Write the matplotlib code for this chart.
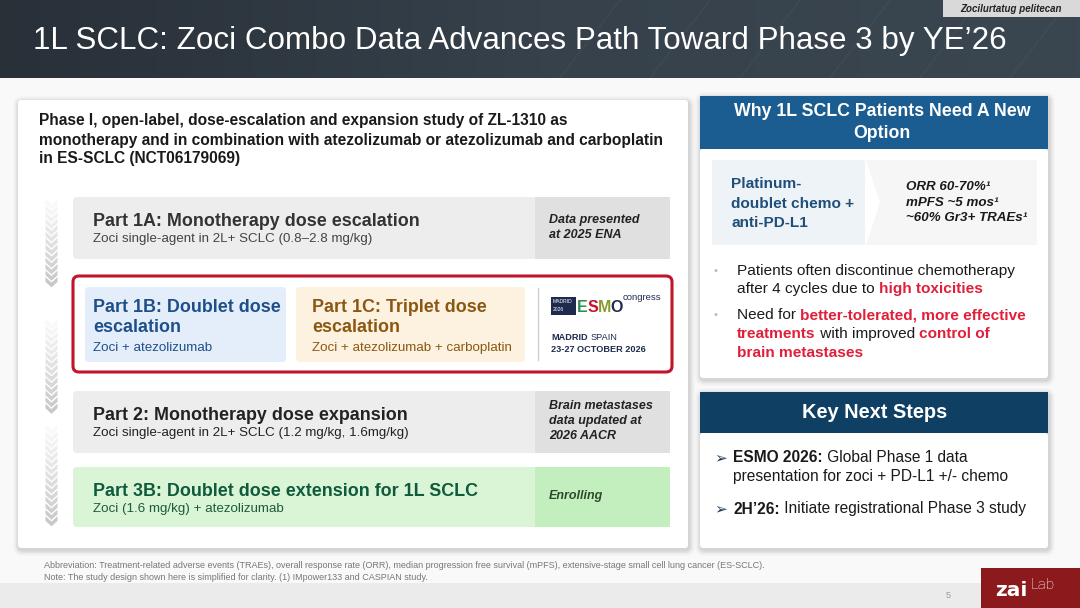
import matplotlib
matplotlib.use("Agg")
import matplotlib.pyplot as plt
from matplotlib.patches import FancyBboxPatch, Rectangle, Polygon
from matplotlib.colors import LinearSegmentedColormap
import numpy as np

plt.rcParams['font.family'] = ['Liberation Sans', 'DejaVu Sans']

# ---------------- content ----------------
title = "1L SCLC: Zoci Combo Data Advances Path Toward Phase 3 by YE\u201926"
tag = "Zocilurtatug pelitecan"
study_lines = ["Phase I, open-label, dose-escalation and expansion study of ZL-1310 as",
               "monotherapy and in combination with atezolizumab or atezolizumab and carboplatin",
               "in ES-SCLC (NCT06179069)"]
part_titles = ["Part 1A: Monotherapy dose escalation",
               "Part 2: Monotherapy dose expansion",
               "Part 3B: Doublet dose extension for 1L SCLC"]
part_subs = ["Zoci single-agent in 2L+ SCLC (0.8\u20132.8 mg/kg)",
             "Zoci single-agent in 2L+ SCLC (1.2 mg/kg, 1.6mg/kg)",
             "Zoci (1.6 mg/kg) + atezolizumab"]
part_status = [["Data presented", "at 2025 ENA"],
               ["Brain metastases", "data updated at", "2026 AACR"],
               ["Enrolling"]]
p1b_title = ["Part 1B: Doublet dose", "escalation"]
p1b_sub = "Zoci + atezolizumab"
p1c_title = ["Part 1C: Triplet dose", "escalation"]
p1c_sub = "Zoci + atezolizumab + carboplatin"
why_head = ["Why 1L SCLC Patients Need A New", "Option"]
why_box = ["Platinum-", "doublet chemo +", "anti-PD-L1"]
why_stats = ["ORR 60-70%\u00b9", "mPFS ~5 mos\u00b9", "~60% Gr3+ TRAEs\u00b9"]
next_head = "Key Next Steps"
footnotes = ["Abbreviation: Treatment-related adverse events (TRAEs), overall response rate (ORR), median progression free survival (mPFS), extensive-stage small cell lung cancer (ES-SCLC).",
             "Note: The study design shown here is simplified for clarity. (1) IMpower133 and CASPIAN study."]

RED = "#e0203a"
DARK = "#1a1a1a"

fig = plt.figure(figsize=(10.8, 6.08), dpi=100)
ax = fig.add_axes([0, 0, 1, 1])
ax.set_xlim(0, 1080)
ax.set_ylim(608, 0)
ax.axis('off')
fig.patch.set_facecolor('white')
R = fig.canvas.get_renderer()


def box(x, y, w, h, fc, ec='none', lw=0, r=3, z=1, alpha=1):
    p = FancyBboxPatch((x, y), w, h, boxstyle=f"round,pad=0,rounding_size={r}",
                       fc=fc, ec=ec, lw=lw, zorder=z, alpha=alpha)
    ax.add_patch(p)
    return p


def shadow(x, y, w, h, z=0.5):
    for i, a in enumerate([0.05, 0.04, 0.03, 0.02]):
        e = 1.5 + i * 1.5
        box(x - e + 1, y - e + 2, w + 2 * e, h + 2 * e, '#000000', r=4 + e, z=z, alpha=a)


def adv(s, size, weight='normal', style='normal'):
    t1 = ax.text(0, 0, s + "|", fontsize=size, fontweight=weight, fontstyle=style)
    t2 = ax.text(0, 0, "|", fontsize=size, fontweight=weight, fontstyle=style)
    w = t1.get_window_extent(R).width - t2.get_window_extent(R).width
    t1.remove()
    t2.remove()
    return w


def runs(x, y, parts, size, va='center'):
    for s, color, weight in parts:
        ax.text(x, y, s, fontsize=size, color=color, fontweight=weight, va=va, ha='left', zorder=10)
        x += adv(s, size, weight)
    return x


# ---------------- header ----------------
grad = np.linspace(0, 1, 256).reshape(1, -1)
cm = LinearSegmentedColormap.from_list('h', ['#283038', '#36414b', '#3a4650'])
ax.imshow(grad, extent=[0, 1080, 78, 0], cmap=cm, aspect='auto', zorder=0)
ax.set_xlim(0, 1080)
ax.set_ylim(608, 0)
for k in range(6):
    x0 = 560 + k * 90
    ax.plot([x0, x0 + 60], [78, 0], color='white', alpha=0.04, lw=1, zorder=0.5)
ax.add_patch(Rectangle((943, 0), 137, 17, fc='#d9d9d9', ec='none', zorder=2))
ax.text(1011, 8.5, tag, fontsize=7.0, fontweight='bold', fontstyle='italic', color='#222222',
        ha='center', va='center', zorder=3)
ax.text(33, 41, title, fontsize=22.6, color='white', ha='left', va='center', zorder=3)

# body background
ax.add_patch(Rectangle((0, 78), 1080, 505, fc='#f9f9f9', ec='none', zorder=0))
ax.add_patch(Rectangle((0, 583), 1080, 25, fc='#ebebeb', ec='none', zorder=0))

# ---------------- left panel ----------------
shadow(18, 100, 670, 448)
box(18, 100, 670, 448, 'white', r=3, z=1)
for i, ln in enumerate(study_lines):
    ax.text(39, 121 + i * 19, ln, fontsize=11.2, fontweight='bold', color=DARK, va='center', zorder=5)


# chevrons
def chevrons(y0, y1):
    step = 6.5
    n = int((y1 - y0 - 12) / step) + 1
    for i in range(n):
        yt = y0 + i * step
        f = i / max(n - 1, 1)
        g = 0.975 - 0.19 * f
        c = (g, g, g)
        pts = [(45, yt), (51.5, yt + 6), (58, yt), (58, yt + 6), (51.5, yt + 12), (45, yt + 6)]
        ax.add_patch(Polygon(pts, closed=True, fc=c, ec='white', lw=0.7, zorder=3))


chevrons(198, 292)
chevrons(318, 415)
chevrons(424, 527)

# Part 1A, 2, 3B boxes
rows_y = [197, 391, 467]
rows_h = [62, 62, 60]
main_fc = ['#ededed', '#ededed', '#d9f5d5']
side_fc = ['#e0e0e0', '#e0e0e0', '#c3eebd']
title_c = ['#333333', '#222222', '#0f5a3c']
sub_c = ['#444444', '#222222', '#1d5a3c']
stat_c = ['#222222', '#222222', '#2d4a2d']
for i in range(3):
    y, h = rows_y[i], rows_h[i]
    shadow(73, y, 597, h)
    box(73, y, 597, h, main_fc[i], r=4, z=2)
    ax.add_patch(Rectangle((535, y), 135, h, fc=side_fc[i], ec='none', zorder=2.5))
    ax.text(93, y + 24, part_titles[i], fontsize=12.9, fontweight='bold', color=title_c[i], va='center', zorder=5)
    ax.text(93, y + 42, part_subs[i], fontsize=9.6, color=sub_c[i], va='center', zorder=5)
    st = part_status[i]
    n = len(st)
    for j, s in enumerate(st):
        yy = y + h / 2 + (j - (n - 1) / 2) * 15 - 1
        ax.text(549, yy, s, fontsize=9.0, fontweight='bold', fontstyle='italic', color=stat_c[i], va='center', zorder=5)

# red outlined box
box(73, 276, 599, 96, 'white', ec='#c0152b', lw=2.2, r=6, z=2)
box(85, 287, 201, 75, '#e4eefa', r=4, z=3)
box(296, 287, 229, 75, '#fdf1df', r=4, z=3)
for j, s in enumerate(p1b_title):
    ax.text(93, 307 + j * 21, s, fontsize=12.9, fontweight='bold', color='#1f4f8a', va='center', zorder=5)
ax.text(93, 348, p1b_sub, fontsize=9.6, color='#1f4f8a', va='center', zorder=5)
for j, s in enumerate(p1c_title):
    ax.text(312, 307 + j * 21, s, fontsize=12.9, fontweight='bold', color='#8a5812', va='center', zorder=5)
ax.text(312, 348, p1c_sub, fontsize=9.6, color='#8a5812', va='center', zorder=5)
ax.plot([538, 538], [288, 360], color='#cfcfcf', lw=1, zorder=4)

# ESMO logo
NAVY = '#1e2b4f'
ax.add_patch(Rectangle((551, 297), 25, 18, fc=NAVY, ec='none', zorder=4))
ax.text(553, 301.5, "MADRID", fontsize=3.6, color='white', va='center', zorder=5)
ax.text(553, 309.5, "2026", fontsize=3.6, color='white', va='center', zorder=5)
esmo_cols = ['#2f8f4e', '#c8102e', '#8a9a2a', '#1e2b4f']
xx = 577
for ch, c in zip("ESMO", esmo_cols):
    ax.text(xx, 307, ch, fontsize=11.5, fontweight='bold', color=c, va='center', zorder=5)
    xx += adv(ch, 11.5, 'bold') - 0.5
ax.text(xx, 298, "congress", fontsize=6.8, color=NAVY, va='center', zorder=5)
xm = 551
ax.text(xm, 338, "MADRID", fontsize=6.6, fontweight='bold', color=NAVY, va='center', zorder=5)
ax.text(xm + adv("MADRID ", 6.6, 'bold'), 338, "SPAIN", fontsize=6.6, color=NAVY, va='center', zorder=5)
ax.text(xm, 350, "23-27 OCTOBER 2026", fontsize=6.6, fontweight='bold', color=NAVY, va='center', zorder=5)

# ---------------- right top panel ----------------
shadow(700, 96, 348, 282)
box(700, 149, 348, 229, 'white', r=3, z=1)
ax.add_patch(Rectangle((700, 96), 348, 53, fc='#1b5d90', ec='none', zorder=2))
for j, s in enumerate(why_head):
    ax.text(882, 112 + j * 22, s, fontsize=12.8, fontweight='bold', color='white', ha='center', va='center', zorder=5)
box(712, 160, 153, 85, '#eef3f8', r=2, z=2)
ax.add_patch(Polygon([(866, 160), (1037, 160), (1037, 245), (866, 245), (880, 202.5)],
                     closed=True, fc='#f6f6f6', ec='none', zorder=2))
for j, s in enumerate(why_box):
    ax.text(731, 184 + j * 19.5, s, fontsize=11.1, fontweight='bold', color='#1f4e79', va='center', zorder=5)
for j, s in enumerate(why_stats):
    ax.text(906, 187 + j * 15.5, s, fontsize=9.6, fontweight='bold', fontstyle='italic', color=DARK, va='center', zorder=5)

bsz = 11.1
ax.text(713, 271, "\u2022", fontsize=8, color='#bbbbbb', va='center', zorder=5)
runs(737, 271, [("Patients often discontinue chemotherapy", DARK, 'normal')], bsz)
runs(737, 289, [("after 4 cycles due to ", DARK, 'normal'), ("high toxicities", RED, 'bold')], bsz)
ax.text(713, 315, "\u2022", fontsize=8, color='#bbbbbb', va='center', zorder=5)
runs(737, 315, [("Need for ", DARK, 'normal'), ("better-tolerated, more effective", RED, 'bold')], bsz)
runs(737, 334, [("treatments", RED, 'bold'), (" with improved ", DARK, 'normal'), ("control of", RED, 'bold')], bsz)
runs(737, 353, [("brain metastases", RED, 'bold')], bsz)

# ---------------- right bottom panel ----------------
shadow(700, 392, 348, 156)
box(700, 433, 348, 115, 'white', r=3, z=1)
ax.add_patch(Rectangle((700, 392), 348, 41, fc='#0f3f63', ec='none', zorder=2))
ax.text(875, 413, next_head, fontsize=14.4, fontweight='bold', color='white', ha='center', va='center', zorder=5)
ax.text(714, 458, "\u27a2", fontsize=11, color='#1f3b5a', va='center', zorder=5, family=['DejaVu Sans'])
runs(733, 458, [("ESMO 2026:", DARK, 'bold'), (" Global Phase 1 data", DARK, 'normal')], 11.2)
runs(733, 476, [("presentation for zoci + PD-L1 +/- chemo", DARK, 'normal')], 11.2)
ax.text(714, 509, "\u27a2", fontsize=11, color='#1f3b5a', va='center', zorder=5, family=['DejaVu Sans'])
runs(733, 509, [("2H\u201926:", DARK, 'bold'), (" Initiate registrational Phase 3 study", DARK, 'normal')], 11.2)

# ---------------- footer ----------------
for j, s in enumerate(footnotes):
    ax.text(44, 566 + j * 11, s, fontsize=6.5, color='#777777', va='center', zorder=5)
ax.text(948, 596, "5", fontsize=6.5, color='#999999', ha='center', va='center', zorder=5)
ax.add_patch(Rectangle((981, 568), 99, 40, fc='#8c1a1d', ec='none', zorder=3))
ax.text(995, 590, "zai", fontsize=14.5, fontweight='bold', color='white', va='center', zorder=5,
        family=['DejaVu Sans'])
ax.text(1031, 585, "Lab", fontsize=11, fontweight='light', color='white', va='center', zorder=5,
        family=['Roboto', 'DejaVu Sans'])

fig.savefig("out.png", dpi=100, facecolor=fig.get_facecolor())
